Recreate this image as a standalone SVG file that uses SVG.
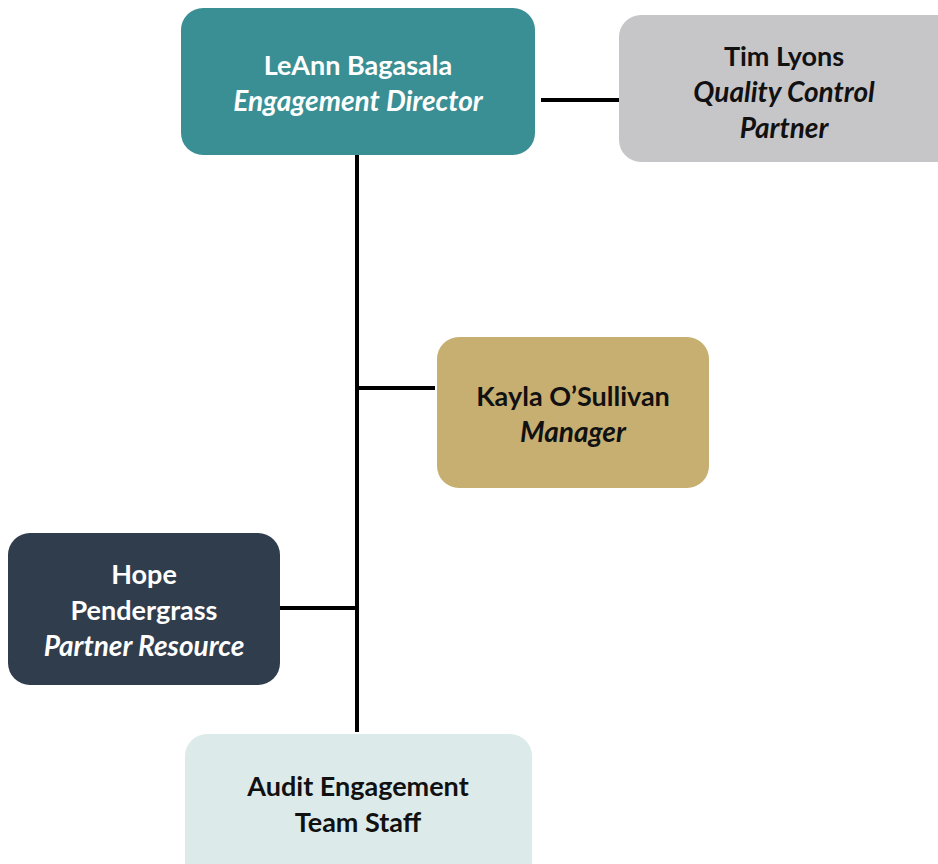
<svg xmlns="http://www.w3.org/2000/svg" width="938" height="864" viewBox="0 0 938 864">
<style>
.t{font-family:Lato,"Open Sans","Liberation Sans",sans-serif;font-size:27px;font-weight:bold;text-anchor:middle}
.i{font-style:italic;font-size:28px}
.w{fill:#ffffff}
.k{fill:#111111}
.c{stroke:#000;stroke-width:4;fill:none}
</style>
<rect width="938" height="864" fill="#ffffff"/>
<g id="connectors">
<line class="c" x1="357" y1="154" x2="357" y2="732"/>
<line class="c" x1="541" y1="100" x2="619" y2="100"/>
<line class="c" x1="357" y1="388" x2="435" y2="388"/>
<line class="c" x1="280" y1="608" x2="357" y2="608"/>
</g>
<g id="leann">
<rect x="181" y="8" width="354" height="147" rx="22" fill="#3A8F94"/>
<text class="t w" x="358" y="75">LeAnn Bagasala</text>
<text class="t w i" x="358" y="111">Engagement Director</text>
</g>
<g id="tim">
<rect x="619" y="15" width="340" height="147" rx="22" fill="#C6C6C8"/>
<text class="t k" x="784" y="66">Tim Lyons</text>
<text class="t k i" x="784" y="102">Quality Control</text>
<text class="t k i" x="784" y="138">Partner</text>
</g>
<g id="kayla">
<rect x="437" y="337" width="272" height="151" rx="22" fill="#C6AF71"/>
<text class="t k" x="573" y="406">Kayla O’Sullivan</text>
<text class="t k i" x="573" y="442">Manager</text>
</g>
<g id="hope">
<rect x="8" y="533" width="272" height="152" rx="22" fill="#303D4D"/>
<text class="t w" x="144" y="584">Hope</text>
<text class="t w" x="144" y="620">Pendergrass</text>
<text class="t w i" x="144" y="656">Partner Resource</text>
</g>
<g id="staff">
<rect x="185" y="734" width="347" height="160" rx="22" fill="#DDEAEA"/>
<text class="t k" x="358" y="796">Audit Engagement</text>
<text class="t k" x="358" y="832">Team Staff</text>
</g>
</svg>
